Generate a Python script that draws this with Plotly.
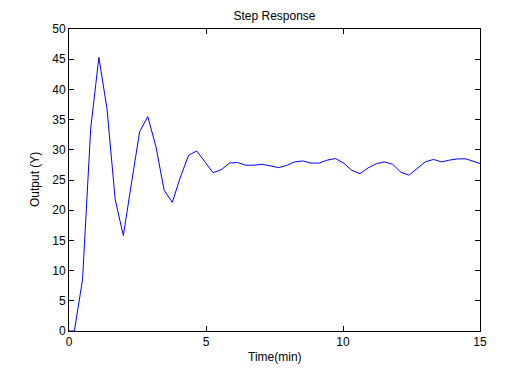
import plotly.graph_objects as go

# Sample times (min) and output values
t0 = 0.196
dt = 0.2978
output_y = [0.0, 8.5, 33.5, 45.3, 36.8, 21.8, 15.8, 24.5, 33.0, 35.5,
            30.5, 23.3, 21.3, 25.5, 29.1, 29.8, 28.0, 26.2, 26.7, 27.8,
            27.9, 27.45, 27.45, 27.6, 27.35, 27.05, 27.4, 28.0, 28.15, 27.8,
            27.8, 28.3, 28.55, 27.8, 26.6, 26.05, 27.0, 27.7, 28.0, 27.6,
            26.3, 25.8, 26.9, 28.0, 28.4, 28.0, 28.3, 28.5, 28.5, 28.1,
            27.6]
time_min = [0.0] + [round(t0 + dt * k, 4) for k in range(len(output_y))]
output_y = [0.0] + output_y

x_ticks = [0, 5, 10, 15]
y_ticks = [0, 5, 10, 15, 20, 25, 30, 35, 40, 45, 50]

W, H = 529, 372
L, R, T, B = 69, 49, 29, 41
FONT = "Arial, Liberation Sans, sans-serif"

fig = go.Figure()
fig.add_trace(go.Scatter(x=time_min, y=output_y, mode="lines",
                         line=dict(color="#0000FF", width=1),
                         showlegend=False, hoverinfo="skip"))

axis_common = dict(showline=True, linecolor="black", linewidth=1, mirror="allticks",
                   ticks="inside", ticklen=5, tickwidth=1, tickcolor="black",
                   showgrid=False, zeroline=False,
                   tickfont=dict(family=FONT, size=12, color="black"))

fig.update_xaxes(range=[0, 15], tickvals=x_ticks, ticktext=[str(v) for v in x_ticks],
                 **axis_common)
fig.update_yaxes(range=[0, 50], tickvals=y_ticks, ticktext=[str(v) for v in y_ticks],
                 **axis_common)

fig.update_layout(
    width=W, height=H,
    margin=dict(l=L, r=R, t=T, b=B, pad=0),
    paper_bgcolor="white", plot_bgcolor="white",
    font=dict(family=FONT, size=12, color="black"),
    title=dict(text="Step Response", x=(L + (W - L - R) / 2) / W, xanchor="center",
               y=1 - 16 / H, yanchor="middle", yref="container",
               font=dict(family=FONT, size=12, color="black")),
    annotations=[
        dict(text="Time(min)", xref="paper", yref="paper", x=0.5, y=0,
             xanchor="center", yanchor="middle", yshift=-(357 - (H - B)),
             showarrow=False, font=dict(family=FONT, size=12, color="black")),
        dict(text="Output (Y)", xref="paper", yref="paper", x=0, y=0.5,
             xanchor="center", yanchor="middle", xshift=-(L - 35), textangle=-90,
             showarrow=False, font=dict(family=FONT, size=12, color="black")),
    ],
)

fig.write_html("out.html", config={"displayModeBar": False},
               post_script="document.body.style.margin='0';document.body.style.overflow='hidden';")
